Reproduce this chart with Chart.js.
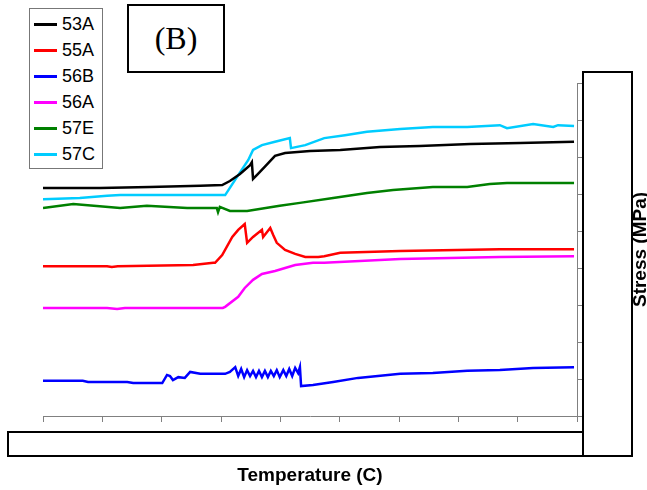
<!DOCTYPE html>
<html>
<head>
<meta charset="utf-8">
<script src="https://cdn.jsdelivr.net/npm/chart.js@4/dist/chart.umd.min.js"></script>
<style>
  body { margin: 0; background: #fff; }
  #wrap { position: relative; width: 647px; height: 490px; }
  #legend {
    position: absolute; left: 29px; top: 8px; width: 72px; height: 159px;
    border: 1.5px solid #777; background: #fff;
    font-family: "Liberation Sans", Arial, sans-serif; font-size: 18px;
  }
  #legend div { position: absolute; left: 4px; height: 20px; line-height: 20px; }
  #legend span.sw { display: inline-block; width: 23px; height: 3px; vertical-align: middle; margin-right: 5px; position: relative; top: -1px; }
  #tag {
    position: absolute; left: 127px; top: 4px; width: 94px; height: 65px;
    border: 2px solid #000; background: #fff;
    font-family: "Liberation Serif", "Times New Roman", serif; font-size: 32px;
    text-align: center; line-height: 65px;
  }
</style>
</head>
<body>
<div id="wrap">
  <canvas id="c" width="647" height="490"></canvas>
  <div id="legend"></div>
  <div id="tag">(B)</div>
</div>
<script>
// temperature (x) and stress (y) readings per specimen
const names = ['53A', '55A', '56B', '56A', '57E', '57C'];
const colors = ['#000000', '#ff0000', '#0000ff', '#ff00ff', '#008000', '#00ccff'];

const t53A = [0, 9.6, 18.0, 26.5, 30.2, 31.5, 33.2, 34.9, 35.2, 35.4, 36.2, 37.8, 39.1, 40.8, 45.0, 50.1, 56.8, 63.5, 72.0, 80.4, 89.5];
const s53A = [61.6, 61.6, 61.9, 62.2, 62.4, 63.5, 65.4, 67.8, 68.6, 64.1, 65.4, 68.1, 70.3, 71.1, 71.6, 71.9, 72.7, 73.0, 73.5, 73.8, 74.1];

const t55A = [0, 10.8, 11.6, 12.6, 25.3, 28.7, 29.0, 30.2, 31.9, 32.9, 34.0, 34.4, 35.4, 36.9, 37.1, 38.3, 38.8, 39.4, 40.8, 42.5, 44.2, 46.4, 47.4, 50.1, 60.2, 77.0, 89.5];
const s55A = [40.5, 40.5, 40.3, 40.5, 40.8, 41.4, 41.4, 43.5, 48.4, 50.3, 51.9, 46.8, 48.4, 50.3, 48.4, 50.8, 48.9, 46.8, 44.9, 43.8, 43.0, 43.0, 43.2, 44.1, 44.6, 45.1, 45.1];

const t56B = [0, 6.7, 7.6, 14.2, 15.2, 20.1, 20.9, 21.4, 21.9, 22.8, 23.9, 24.8, 26.5, 30.7, 31.5, 32.4,
  32.9, 33.4, 33.9, 34.4, 34.9, 35.4, 35.9, 36.4, 36.9, 37.4, 37.9, 38.4, 38.9, 39.4, 39.9, 40.5, 41.0, 41.5, 42.0, 42.5, 43.0, 43.3,
  43.5, 45.5, 48.9, 53.1, 60.2, 65.7, 71.5, 77.0, 82.6, 89.5];
const s56B = [9.5, 9.5, 9.2, 9.2, 8.9, 8.9, 11.1, 10.8, 9.7, 10.5, 10.3, 11.9, 11.4, 11.4, 11.9, 13.2,
  10.8, 12.7, 10.5, 12.4, 10.8, 12.2, 10.5, 12.2, 10.5, 12.2, 10.5, 12.2, 10.8, 12.4, 10.5, 12.4, 10.8, 12.7, 10.8, 13.0, 11.6, 13.2,
  8.1, 8.4, 9.2, 10.3, 11.4, 11.6, 12.2, 12.4, 13.0, 13.2];

const t56A = [0, 10.8, 12.5, 13.8, 30.3, 30.7, 32.9, 34.0, 35.4, 36.9, 39.1, 40.8, 42.5, 45.5, 47.4, 60.2, 77.0, 89.5];
const s56A = [29.2, 29.2, 28.9, 29.2, 29.2, 29.5, 32.2, 34.6, 36.8, 38.4, 39.2, 40.0, 40.8, 41.4, 41.4, 42.4, 43.0, 43.2];

const t57E = [0, 5.1, 13.0, 17.5, 24.3, 29.3, 29.5, 29.8, 31.5, 34.4, 39.9, 43.3, 48.9, 54.6, 59.0, 65.7, 71.5, 75.3, 78.2, 82.6, 89.5];
const s57E = [56.2, 57.3, 56.2, 56.8, 56.2, 56.2, 55.1, 56.5, 55.4, 55.4, 56.8, 57.6, 58.9, 60.3, 61.1, 61.9, 61.9, 62.7, 63.0, 63.0, 63.0];

const t57C = [0, 6.2, 10.8, 13.0, 30.2, 30.7, 32.9, 34.6, 35.4, 36.9, 39.1, 41.6, 41.8, 44.2, 47.4, 50.9, 54.6, 60.2, 65.7, 71.5, 77.0, 78.2, 82.6, 86.0, 86.8, 89.5];
const s57C = [58.6, 58.9, 59.5, 59.7, 59.7, 59.7, 65.1, 69.2, 71.9, 73.2, 74.1, 75.1, 72.4, 73.2, 75.1, 75.9, 76.8, 77.6, 78.1, 78.1, 78.6, 77.8, 78.9, 78.1, 78.6, 78.4];

const temps = [t53A, t55A, t56B, t56A, t57E, t57C];
const stresses = [s53A, s55A, s56B, s56A, s57E, s57C];

const datasets = names.map((n, i) => ({
  label: n,
  data: temps[i].map((t, j) => ({ x: t, y: stresses[i][j] })),
  borderColor: colors[i],
  borderWidth: 2.5,
  pointRadius: 0,
  tension: 0,
  fill: false
}));

// frames and axis titles around the plot
const frames = {
  id: 'frames',
  afterDraw(chart) {
    const ctx = chart.ctx;
    const a = chart.chartArea;
    ctx.save();
    ctx.strokeStyle = '#000';
    ctx.lineWidth = 2;
    ctx.strokeRect(a.right + 6, a.top - 11, 49, a.bottom - a.top + 51);
    ctx.strokeRect(8, a.bottom + 16, a.right + 6 - 8, 24);
    ctx.fillStyle = '#000';
    ctx.font = 'bold 19px "Liberation Sans", Arial, sans-serif';
    ctx.textAlign = 'center';
    ctx.textBaseline = 'middle';
    ctx.fillText('Temperature (C)', (a.left + a.right) / 2, 476);
    ctx.translate(641, (a.top + a.bottom) / 2);
    ctx.rotate(-Math.PI / 2);
    ctx.fillText('Stress (MPa)', 0, 0);
    ctx.restore();
  }
};

const chart = new Chart(document.getElementById('c'), {
  type: 'line',
  data: { datasets },
  options: {
    responsive: false,
    animation: false,
    layout: { padding: { left: 43, top: 83, right: 64, bottom: 68 } },
    plugins: { legend: { display: false }, tooltip: { enabled: false } },
    scales: {
      x: {
        type: 'linear', position: 'bottom', min: 0, max: 90,
        ticks: { display: false, stepSize: 10 },
        grid: { drawOnChartArea: false, drawTicks: true, tickLength: 6, color: '#808080' },
        border: { color: '#808080', width: 1 }
      },
      y: {
        type: 'linear', position: 'right', min: 0, max: 90,
        ticks: { display: false, stepSize: 10 },
        grid: { drawOnChartArea: false, drawTicks: true, tickLength: 6, color: '#808080' },
        border: { color: '#808080', width: 1 }
      }
    }
  },
  plugins: [frames]
});

// legend box
const leg = document.getElementById('legend');
chart.data.datasets.forEach((d, i) => {
  const row = document.createElement('div');
  row.style.top = (5 + i * 26) + 'px';
  row.innerHTML = `<span class="sw" style="background:${d.borderColor}"></span>${d.label}`;
  leg.appendChild(row);
});
</script>
</body>
</html>
